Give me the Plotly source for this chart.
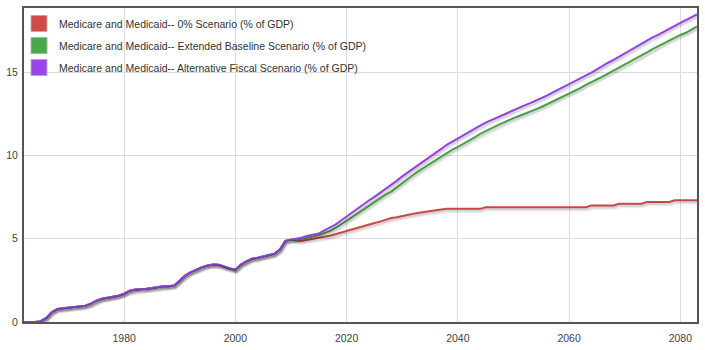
import plotly.graph_objects as go

# ---------------- data ----------------
years = list(range(1962, 2084))

history = [0, 0, 0, 0.05, 0.25, 0.6, 0.78, 0.82, 0.85, 0.88,
           0.92, 0.98, 1.1, 1.28, 1.4, 1.46, 1.52, 1.58, 1.7, 1.88,
           1.96, 1.97, 2.0, 2.05, 2.12, 2.15, 2.15, 2.2, 2.5, 2.8,
           3.0, 3.15, 3.3, 3.4, 3.46, 3.44, 3.32, 3.22, 3.14, 3.45,
           3.65, 3.8, 3.86, 3.93, 4.0, 4.1, 4.35, 4.88, 4.95]  # 1962-2010

zero_pct_proj = [4.88, 4.88, 4.95, 5.0, 5.05, 5.12, 5.18, 5.28, 5.38, 5.47,
                 5.57, 5.67, 5.77, 5.87, 5.95, 6.03, 6.15, 6.25, 6.3, 6.38,
                 6.45, 6.5, 6.56, 6.62, 6.66, 6.7, 6.76, 6.8, 6.8, 6.8,
                 6.8, 6.8, 6.8, 6.8, 6.9, 6.9, 6.9, 6.9, 6.9, 6.9,
                 6.9, 6.9, 6.9, 6.9, 6.9, 6.9, 6.9, 6.9, 6.9, 6.9,
                 6.9, 6.9, 6.9, 7.0, 7.0, 7.0, 7.0, 7.0, 7.11, 7.11,
                 7.11, 7.11, 7.11, 7.21, 7.21, 7.21, 7.21, 7.21, 7.31, 7.31,
                 7.31, 7.31, 7.31]  # 2011-2083

baseline_proj = [4.95, 5.0, 5.08, 5.15, 5.22, 5.35, 5.47, 5.65, 5.85, 6.07,
                 6.3, 6.53, 6.76, 7.0, 7.22, 7.45, 7.65, 7.84, 8.1, 8.35,
                 8.6, 8.85, 9.08, 9.3, 9.52, 9.74, 9.96, 10.18, 10.36, 10.52,
                 10.7, 10.9, 11.1, 11.3, 11.48, 11.65, 11.8, 11.95, 12.12, 12.25,
                 12.38, 12.5, 12.62, 12.78, 12.92, 13.08, 13.25, 13.42, 13.57, 13.72,
                 13.88, 14.05, 14.25, 14.4, 14.58, 14.75, 14.92, 15.1, 15.3, 15.47,
                 15.62, 15.8, 16.0, 16.2, 16.4, 16.58, 16.75, 16.92, 17.1, 17.25,
                 17.38, 17.55, 17.76]  # 2011-2083

alternative_proj = [5.0, 5.08, 5.18, 5.25, 5.32, 5.5, 5.65, 5.85, 6.1, 6.35,
                    6.58, 6.82, 7.05, 7.3, 7.52, 7.75, 8.0, 8.22, 8.48, 8.75,
                    8.98, 9.2, 9.45, 9.7, 9.9, 10.15, 10.4, 10.65, 10.85, 11.0,
                    11.2, 11.4, 11.62, 11.8, 11.98, 12.13, 12.28, 12.45, 12.6, 12.75,
                    12.88, 13.02, 13.15, 13.3, 13.42, 13.6, 13.78, 13.95, 14.12, 14.28,
                    14.42, 14.6, 14.8, 14.98, 15.18, 15.4, 15.58, 15.75, 15.95, 16.15,
                    16.34, 16.52, 16.72, 16.92, 17.1, 17.25, 17.45, 17.6, 17.8, 17.98,
                    18.15, 18.32, 18.48]  # 2011-2083

series_names = ["Medicare and Medicaid-- 0% Scenario (% of GDP)",
                "Medicare and Medicaid-- Extended Baseline Scenario (% of GDP)",
                "Medicare and Medicaid-- Alternative Fiscal Scenario (% of GDP)"]
series_values = [history + zero_pct_proj,
                 history + baseline_proj,
                 history + alternative_proj]
colors = ["#D14B4B", "#4CA64C", "#9B44EB"]

x_ticks = [1980, 2000, 2020, 2040, 2060, 2080]
y_ticks = [0, 5, 10, 15]

# ---------------- figure ----------------
X_RANGE = [1962, 2083]
Y_RANGE = [0, 18.87]
W, H = 705, 350
ML, MR, MT, MB = 22, 8, 6, 26
plot_w = W - ML - MR
plot_h = H - MT - MB
px_x = (X_RANGE[1] - X_RANGE[0]) / plot_w
px_y = (Y_RANGE[1] - Y_RANGE[0]) / plot_h

FONT = "Liberation Sans, Arial, sans-serif"

fig = go.Figure()

# soft shadows (drawn on offset overlay axes, 1px right / 2px down)
for vals in series_values:
    for w, a in [(5, 0.05), (3, 0.06), (1.5, 0.07)]:
        fig.add_trace(go.Scatter(x=years, y=vals, mode="lines",
                                 line=dict(color=f"rgba(0,0,0,{a})", width=w),
                                 xaxis="x2", yaxis="y2", showlegend=False,
                                 hoverinfo="skip"))

for name, vals, c in zip(series_names, series_values, colors):
    fig.add_trace(go.Scatter(x=years, y=vals, mode="lines", name=name,
                             line=dict(color=c, width=2), showlegend=False,
                             legendgroup=name))
    fig.add_trace(go.Scatter(x=[None], y=[None], mode="markers", name=name,
                             marker=dict(symbol="square", size=16, color=c,
                                         line=dict(color="#b0b0b0", width=1)),
                             legendgroup=name, showlegend=True))

fig.update_layout(
    width=W, height=H,
    margin=dict(l=ML, r=MR, t=MT, b=MB, pad=0),
    paper_bgcolor="white", plot_bgcolor="white",
    font=dict(family=FONT, size=11, color="#444"),
    showlegend=True,
    legend=dict(x=-5 / plot_w, y=1.0 - 1 / plot_h, xanchor="left", yanchor="top",
                bgcolor="rgba(0,0,0,0)", borderwidth=0,
                font=dict(family=FONT, size=10.5, color="#333"),
                tracegroupgap=3, itemsizing="trace"),
    xaxis=dict(range=X_RANGE, tickvals=x_ticks, ticktext=[str(t) for t in x_ticks],
               showgrid=True, gridcolor="#dcdcdc", gridwidth=1,
               showline=True, linecolor="#555", linewidth=2, mirror=True,
               zeroline=False, ticks="outside", ticklen=5, tickcolor="rgba(0,0,0,0)",
               tickfont=dict(family=FONT, size=10.5, color="#444")),
    yaxis=dict(range=Y_RANGE, tickvals=y_ticks, ticktext=[str(t) for t in y_ticks],
               showgrid=True, gridcolor="#dcdcdc", gridwidth=1,
               showline=True, linecolor="#555", linewidth=2, mirror=True,
               zeroline=False, ticks="outside", ticklen=2, tickcolor="rgba(0,0,0,0)",
               tickfont=dict(family=FONT, size=10.5, color="#444")),
    xaxis2=dict(range=[X_RANGE[0] - px_x * 1.0, X_RANGE[1] - px_x * 1.0],
                overlaying="x", visible=False, showgrid=False),
    yaxis2=dict(range=[Y_RANGE[0] + px_y * 2.0, Y_RANGE[1] + px_y * 2.0],
                overlaying="y", visible=False, showgrid=False),
)

fig.write_html("out.html")
